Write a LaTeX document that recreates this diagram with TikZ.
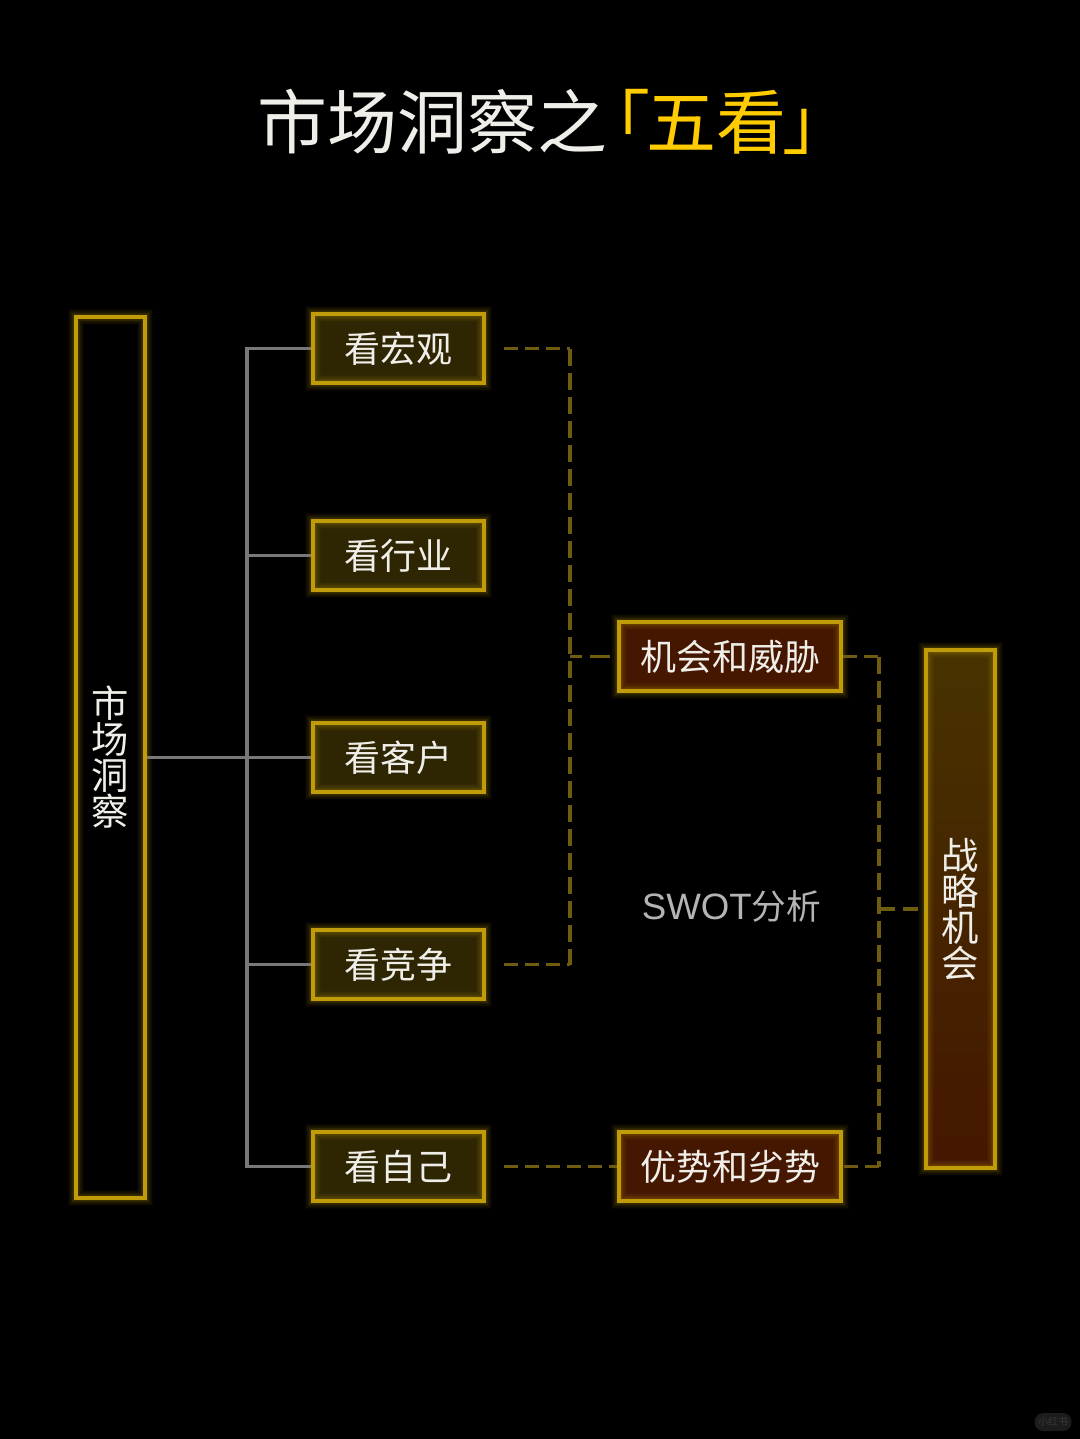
\documentclass[tikz,border=0pt]{standalone}
\usepackage{fontspec}
\setmainfont{Noto Sans CJK SC}
\newfontfamily\latinfont{Liberation Sans}
\definecolor{goldline}{HTML}{C09C0A}
\definecolor{goldtitle}{HTML}{FFCC00}
\definecolor{dashgold}{HTML}{6E5C10}
\definecolor{treegrey}{HTML}{787878}
\definecolor{paletext}{HTML}{F0EEE8}
\definecolor{swotgrey}{HTML}{B4B4B4}
\definecolor{olivefill}{HTML}{2E2603}
\definecolor{rustfill}{HTML}{451600}
\definecolor{topfill}{HTML}{473300}
\definecolor{markfill}{HTML}{1C1C1C}
\definecolor{marktext}{HTML}{383838}

\tikzset{
  glowlayer/.style={postaction={draw=goldline,draw opacity=.03,line width=#1}},
  glowbox/.style={draw=goldline,line width=3pt,inner sep=0pt,text=paletext,align=center,
    font=\fontsize{27}{27}\selectfont,
    glowlayer=12pt,glowlayer=11pt,glowlayer=10pt,glowlayer=9pt,glowlayer=8pt,glowlayer=7pt,
    glowlayer=6.5pt,glowlayer=6pt,glowlayer=5.5pt,glowlayer=5pt,glowlayer=4.5pt,glowlayer=4pt},
  lookbox/.style={glowbox,fill=olivefill,minimum width=128.25pt,minimum height=51.75pt},
  swotbox/.style={glowbox,fill=rustfill,minimum width=166.5pt,minimum height=51.75pt},
  treeline/.style={draw=treegrey,line width=2.6pt},
  dashline/.style={draw=dashgold,line width=2.6pt,dash pattern=on 10.5pt off 5.25pt},
  dashvert/.style={dashline,dash pattern=on 12.75pt off 5.25pt},
  dashstub/.style={dashline,dash pattern=on 9pt off 6pt on 15pt off 6pt}
}

\begin{document}
\begin{tikzpicture}[x=0.75pt,y=0.75pt,yscale=-1,xscale=1]
\useasboundingbox (0,0) rectangle (1080,1439);
\fill [black] (0,0) rectangle (1080,1439);

% Text Node
\node (title) at (537,122) [text=paletext,font=\fontsize{52.5}{53}\selectfont,inner sep=0pt,xshift=13.5pt] {市场洞察之\kern-20pt\textcolor{goldtitle}{「\kern-3pt 五看\kern-3pt」}};

% boxes
\node (market) at (110.5,757.5) [glowbox,fill=black,minimum width=51.75pt,minimum height=660.75pt,font=\fontsize{28}{27}\selectfont] {市\\场\\洞\\察};
\node (macro) at (398.5,348.5) [lookbox] {看宏观};
\node (industry) at (398.5,555.5) [lookbox] {看行业};
\node (customer) at (398.5,757.5) [lookbox] {看客户};
\node (rival) at (398.5,964.5) [lookbox] {看竞争};
\node (self) at (398.5,1166.5) [lookbox] {看自己};
\node (threat) at (730,656.5) [swotbox] {机会和威胁};
\node (strength) at (730,1166.5) [swotbox] {优势和劣势};
\node (chance) at (960.5,909) [glowbox,top color=topfill,bottom color=rustfill,middle color=topfill!50!rustfill,minimum width=51.75pt,minimum height=388.5pt,font=\fontsize{28}{27}\selectfont] {战\\略\\机\\会};

% Text Node
\node (swot) at (731.5,906) [text=swotgrey,font=\fontsize{26}{27}\selectfont,inner sep=0pt] {{\latinfont\fontsize{27.5}{27}\selectfont SWOT}分析};
\node (badge) at (1053,1422) [fill=markfill,rounded corners=6.5pt,minimum width=27.75pt,minimum height=13.5pt,inner sep=0pt,text=marktext,font=\fontsize{7.5}{8}\selectfont] {小红书};

% tree
\coordinate (treeTop) at (247,348.5);
\coordinate (treeBot) at (247,1166.5);
\draw [treeline] (macro) -- (treeTop) -- (treeBot) -- (self);
\draw [treeline] (industry) -- (industry -| treeTop);
\draw [treeline] (rival) -- (rival -| treeTop);
\draw [treeline] (market) -- (customer);

% dashed connectors
\coordinate (macroEnd) at (504,348.5);
\coordinate (rivalEnd) at (504,964.5);
\coordinate (selfEnd) at (504,1166.5);
\coordinate (swotTop) at (570,348.5);
\coordinate (swotBot) at (570,964.5);
\coordinate (swotMid) at (570,656.5);
\coordinate (threatEnd) at (610,656.5);
\coordinate (rightTop) at (879,656.5);
\coordinate (rightBot) at (879,1166.5);
\coordinate (rightMid) at (879,909);
\coordinate (chanceEnd) at (918,909);
\draw [dashline] (macroEnd) -- (swotTop);
\draw [dashvert] (swotTop) -- (swotBot);
\draw [dashline] (rivalEnd) -- (swotBot);
\draw [dashstub] (swotMid) -- (threatEnd);
\draw [dashline] (selfEnd) -- (strength);
\draw [dashline] (threat) -- (rightTop);
\draw [dashvert] (rightTop) -- (rightBot);
\draw [dashline] (rightBot) -- (strength);
\draw [dashline,dash pattern=on 12pt off 6pt] (rightMid) -- (chanceEnd);

\end{tikzpicture}
\end{document}
